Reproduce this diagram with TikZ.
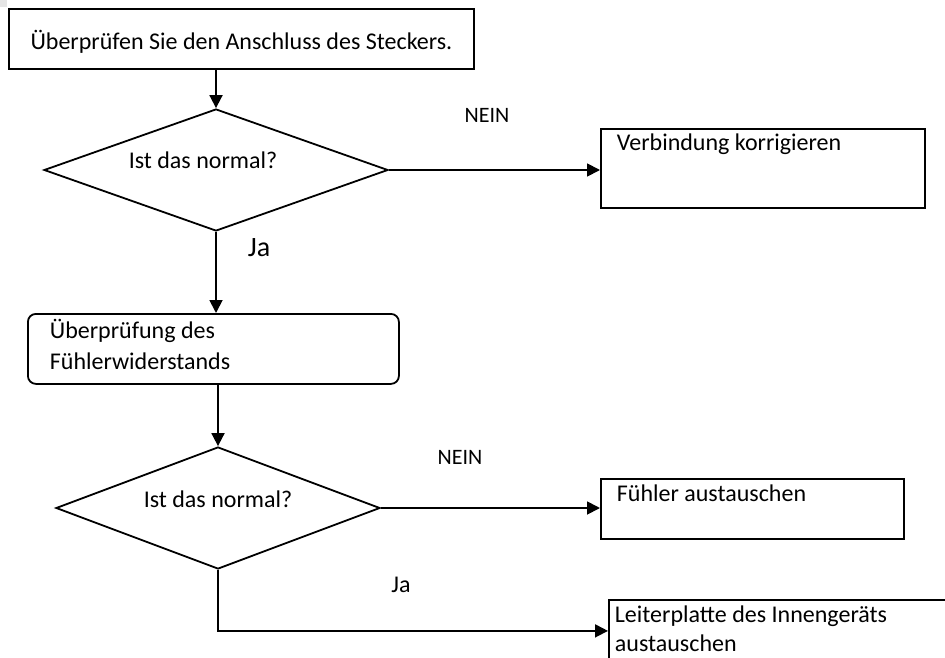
\documentclass[tikz,border=0pt]{standalone}
\usepackage{fontspec}
\setmainfont{Carlito}
\usetikzlibrary{shapes.geometric, arrows.meta}

\tikzset{
  box/.style={draw, line width=0.9pt, anchor=north west, inner sep=0pt, align=flush left},
  decision/.style={draw, diamond, line width=0.9pt, inner sep=0pt, aspect=2.8, minimum height=61pt},
  flow/.style={-{Triangle[length=6.5pt,width=6.5pt]}, line width=0.9pt},
  tag/.style={font=\fontsize{11}{13}\selectfont}
}

\begin{document}
\begin{tikzpicture}[x=0.5pt, y=-0.5pt, font=\fontsize{12}{14.4}\selectfont]
  \useasboundingbox (0,0) rectangle (945,657);
  \clip (0,0) rectangle (945,657);
  \fill[gray!20] (0,0) rectangle (7,7);

  % boxes
  \node[box, align=flush center, text width=232.5pt, text height=20.5pt, text depth=9.5pt] (plug) at (8,8)
    {Überprüfen Sie den Anschluss des Steckers.};
  \node[box, inner xsep=8pt, text width=146pt, text height=11pt, text depth=28.5pt] (fixcon) at (600,128)
    {Verbindung korrigieren};
  \node[box, rounded corners=4pt, inner xsep=11pt, text width=163.5pt, text height=12.5pt, text depth=22.5pt,
        font=\fontsize{12}{15.5}\selectfont] (sensor) at (27,313)
    {Überprüfung des\\Fühlerwiderstands};
  \node[box, inner xsep=8pt, text width=135.5pt, text height=11.5pt, text depth=18.5pt] (swap) at (600,478)
    {Fühler austauschen};
  \node[box, inner xsep=3pt, text width=200pt, text height=11.5pt, text depth=19.5pt,
        font=\fontsize{12}{14.5}\selectfont] (board) at (608,599)
    {Leiterplatte des Innengeräts\\austauschen};

  % decisions
  \node[decision, minimum width=172pt, label={[xshift=-6.5pt, yshift=5pt]center:Ist das normal?}] (ok1) at (216,170) {};
  \node[decision, minimum width=162pt, label={[yshift=4.5pt]center:Ist das normal?}] (ok2) at (218,508) {};

  % labels
  \node[tag] (no1) at (487,115) {NEIN};
  \node[font=\fontsize{14}{16}\selectfont] (yes1) at (259,248) {Ja};
  \node[tag] (no2) at (460,457) {NEIN};
  \node (yes2) at (401,585) {Ja};

  % connectors
  \draw[flow] (plug.south -| ok1.north) -- (ok1.north);
  \draw[flow] (ok1.east) -- (ok1.east -| fixcon.west);
  \draw[flow] (ok1.south) -- (ok1.south |- sensor.north);
  \draw[flow] (sensor.south -| ok2.north) -- (ok2.north);
  \draw[flow] (ok2.east) -- (ok2.east -| swap.west);
  \draw[flow] (ok2.south) |- (board.west);
\end{tikzpicture}
\end{document}
